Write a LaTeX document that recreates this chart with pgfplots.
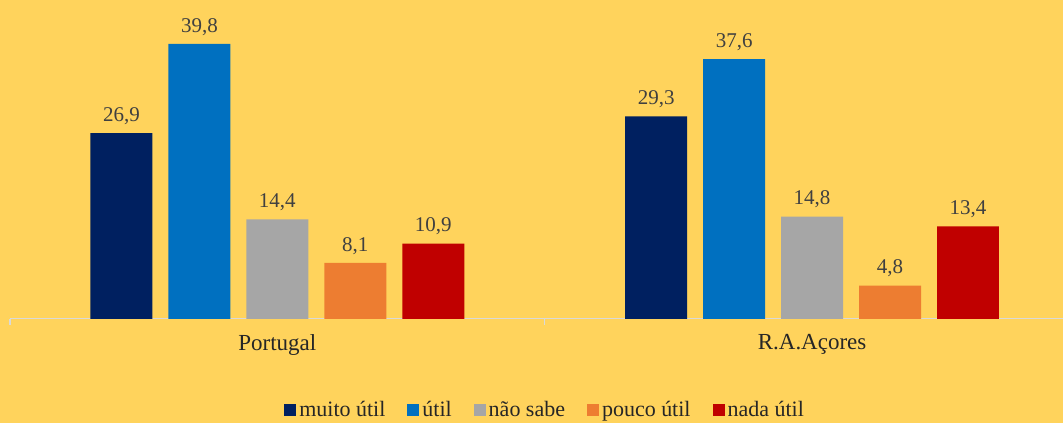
\documentclass[border=0pt]{standalone}
\usepackage{pgfplots}
\pgfplotsset{compat=1.18}
\usepackage{fontspec}
\setmainfont{Liberation Serif}
\newfontfamily\lib{Liberation Serif}
\definecolor{bg}{HTML}{FFD35C}
\definecolor{c1}{HTML}{002060}
\definecolor{c2}{HTML}{0070C0}
\definecolor{c3}{HTML}{A6A6A6}
\definecolor{c4}{HTML}{ED7D31}
\definecolor{c5}{HTML}{C00000}
\definecolor{axisgray}{HTML}{D9D9D9}
\definecolor{txt}{HTML}{404040}
\begin{document}
\begin{tikzpicture}[x=1pt,y=1pt]
\fill[bg] (0,0) rectangle (1064,423);
\begin{axis}[
  at={(10pt,104pt)}, anchor=south west,
  scale only axis,
  width=1054pt, height=311pt,
  xmin=-0.5, xmax=1.47,
  ymin=0, ymax=45,
  ybar=16pt, bar width=62pt,
  axis x line*=bottom,
  axis y line=none,
  x axis line style={axisgray, line width=1.2pt},
  xtick={0,1},
  xticklabels={Portugal, R.A.Açores},
  major x tick style={draw=none},
  minor xtick={-0.5,0.5},
  minor x tick style={axisgray, line width=1.2pt},
  minor tick length=6pt,
  xtick align=outside,
  tick label style={font=\lib\fontsize{23}{25}\selectfont, text=black!85},
  xticklabel style={yshift=-8pt},
  nodes near coords,
  nodes near coords style={font=\lib\fontsize{21}{23}\selectfont, text=txt, anchor=south, yshift=5pt,
    /pgf/number format/.cd, fixed, fixed zerofill, precision=1, use comma, assume math mode=true},
  every axis plot/.append style={draw=none},
  legend columns=-1,
  legend style={at={(0.508,-0.293)}, anchor=center, draw=none, fill=none,
    font=\lib\fontsize{22}{24}\selectfont, text=black!85,
    /tikz/every odd column/.append style={column sep=1pt},
    /tikz/every even column/.append style={column sep=20pt}},
  legend image code/.code={\fill[#1] (0pt,-6pt) rectangle (12pt,6pt);},
  clip=false,
]
\addplot[fill=c1] coordinates {(0,26.9) (1,29.3)};
\addplot[fill=c2] coordinates {(0,39.8) (1,37.6)};
\addplot[fill=c3] coordinates {(0,14.4) (1,14.8)};
\addplot[fill=c4] coordinates {(0,8.1) (1,4.8)};
\addplot[fill=c5] coordinates {(0,10.9) (1,13.4)};
\legend{\lib muito útil, \lib útil, \lib não sabe, \lib pouco útil, \lib nada útil}
\end{axis}
\end{tikzpicture}
\end{document}
